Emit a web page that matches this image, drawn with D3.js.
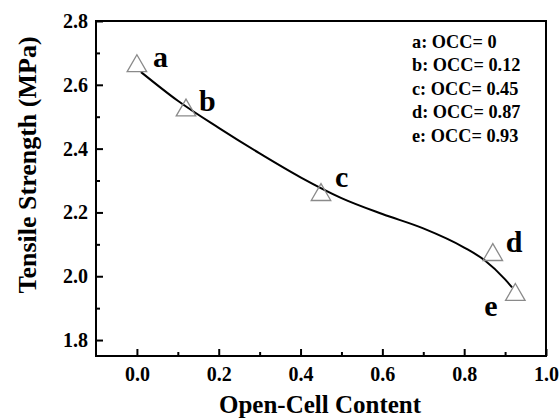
<!DOCTYPE html>
<html>
<head>
<meta charset="utf-8">
<script src="https://cdn.jsdelivr.net/npm/d3@7"></script>
<style>
  body { margin: 0; background: #fff; }
  text { font-family: "Liberation Serif", "Times New Roman", serif; font-weight: bold; }
</style>
</head>
<body>
<script>
  // measured samples
  var occ = [0, 0.12, 0.45, 0.87, 0.925];
  var strength = [2.659, 2.52, 2.255, 2.067, 1.942];
  var sampleLabels = ["a", "b", "c", "d", "e"];
  var legendLines = ["a: OCC= 0", "b: OCC= 0.12", "c: OCC= 0.45", "d: OCC= 0.87", "e: OCC= 0.93"];

  // fitted curve
  var fitX = [0.01, 0.1, 0.2, 0.3, 0.4, 0.5, 0.6, 0.7, 0.8, 0.85, 0.9, 0.917];
  var fitY = [2.64, 2.55, 2.465, 2.385, 2.31, 2.245, 2.195, 2.15, 2.09, 2.05, 1.99, 1.965];

  var xTicks = [0, 0.2, 0.4, 0.6, 0.8, 1.0];
  var yTicks = [1.8, 2.0, 2.2, 2.4, 2.6, 2.8];

  var width = 560, height = 420;
  var m = {left: 96, top: 21, right: 14, bottom: 64};

  var svg = d3.select('body').append('svg')
    .attr('width', width)
    .attr('height', height);

  var x = d3.scaleLinear().domain([-0.1, 1.0]).range([m.left, width - m.right]);
  var y = d3.scaleLinear().domain([1.75, 2.8]).range([height - m.bottom, m.top]);

  // frame
  svg.append('rect')
    .attr('x', x(-0.1)).attr('y', y(2.8))
    .attr('width', x(1.0) - x(-0.1)).attr('height', y(1.75) - y(2.8))
    .attr('fill', 'none').attr('stroke', '#000').attr('stroke-width', 2);

  // minor ticks
  svg.append('g')
    .attr('transform', 'translate(0,' + y(1.75) + ')')
    .call(d3.axisBottom(x).tickValues([0.1, 0.3, 0.5, 0.7, 0.9]).tickSize(-4).tickFormat(''))
    .call(function(g){ g.select('.domain').remove(); g.selectAll('line').attr('stroke-width', 2); });
  svg.append('g')
    .attr('transform', 'translate(' + x(-0.1) + ',0)')
    .call(d3.axisLeft(y).tickValues([1.9, 2.1, 2.3, 2.5, 2.7]).tickSize(-4).tickFormat(''))
    .call(function(g){ g.select('.domain').remove(); g.selectAll('line').attr('stroke-width', 2); });

  // major ticks + labels
  svg.append('g')
    .attr('transform', 'translate(0,' + y(1.75) + ')')
    .call(d3.axisBottom(x).tickValues(xTicks).tickSize(-7).tickPadding(11).tickFormat(d3.format('.1f')))
    .call(function(g){
      g.select('.domain').remove();
      g.selectAll('line').attr('stroke-width', 2);
      g.selectAll('text').attr('font-size', 20).attr('font-family', null).attr('fill', '#000');
    });
  svg.append('g')
    .attr('transform', 'translate(' + x(-0.1) + ',0)')
    .call(d3.axisLeft(y).tickValues(yTicks).tickSize(-7).tickPadding(8).tickFormat(d3.format('.1f')))
    .call(function(g){
      g.select('.domain').remove();
      g.selectAll('line').attr('stroke-width', 2);
      g.selectAll('text').attr('font-size', 20).attr('font-family', null).attr('fill', '#000');
    });

  // axis titles
  svg.append('text')
    .attr('x', 320).attr('y', 413)
    .attr('text-anchor', 'middle').attr('font-size', 25)
    .text('Open-Cell Content');
  svg.append('text')
    .attr('transform', 'translate(36,165) rotate(-90)')
    .attr('text-anchor', 'middle').attr('font-size', 26)
    .text('Tensile Strength (MPa)');

  // fitted curve
  var line = d3.line()
    .x(function(d, i){ return x(fitX[i]); })
    .y(function(d){ return y(d); })
    .curve(d3.curveMonotoneX);
  svg.append('path')
    .datum(fitY)
    .attr('d', line)
    .attr('fill', 'none').attr('stroke', '#000').attr('stroke-width', 2);

  // sample markers
  var tri = d3.symbol().type(d3.symbolTriangle).size(165);
  svg.selectAll('path.pt')
    .data(occ)
    .enter()
    .append('path')
      .attr('class', 'pt')
      .attr('d', tri)
      .attr('transform', function(d, i){ return 'translate(' + x(d) + ',' + y(strength[i]) + ')'; })
      .attr('fill', 'none')
      .attr('stroke', '#8a8a8a')
      .attr('stroke-width', 1.3);

  // sample letters
  var letterDx = [16, 13, 14, 13, -31];
  var letterDy = [1, 1, -8, -3, 21];
  svg.selectAll('text.lbl')
    .data(occ)
    .enter()
    .append('text')
      .attr('class', 'lbl')
      .attr('x', function(d, i){ return x(d) + letterDx[i]; })
      .attr('y', function(d, i){ return y(strength[i]) + letterDy[i]; })
      .attr('font-size', 30)
      .text(function(d, i){ return sampleLabels[i]; });

  // legend text
  svg.selectAll('text.leg')
    .data(legendLines)
    .enter()
    .append('text')
      .attr('class', 'leg')
      .attr('x', 412)
      .attr('y', function(d, i){ return 48 + i * 23.4; })
      .attr('font-size', 18.3)
      .text(function(d){ return d; });
</script>
</body>
</html>
